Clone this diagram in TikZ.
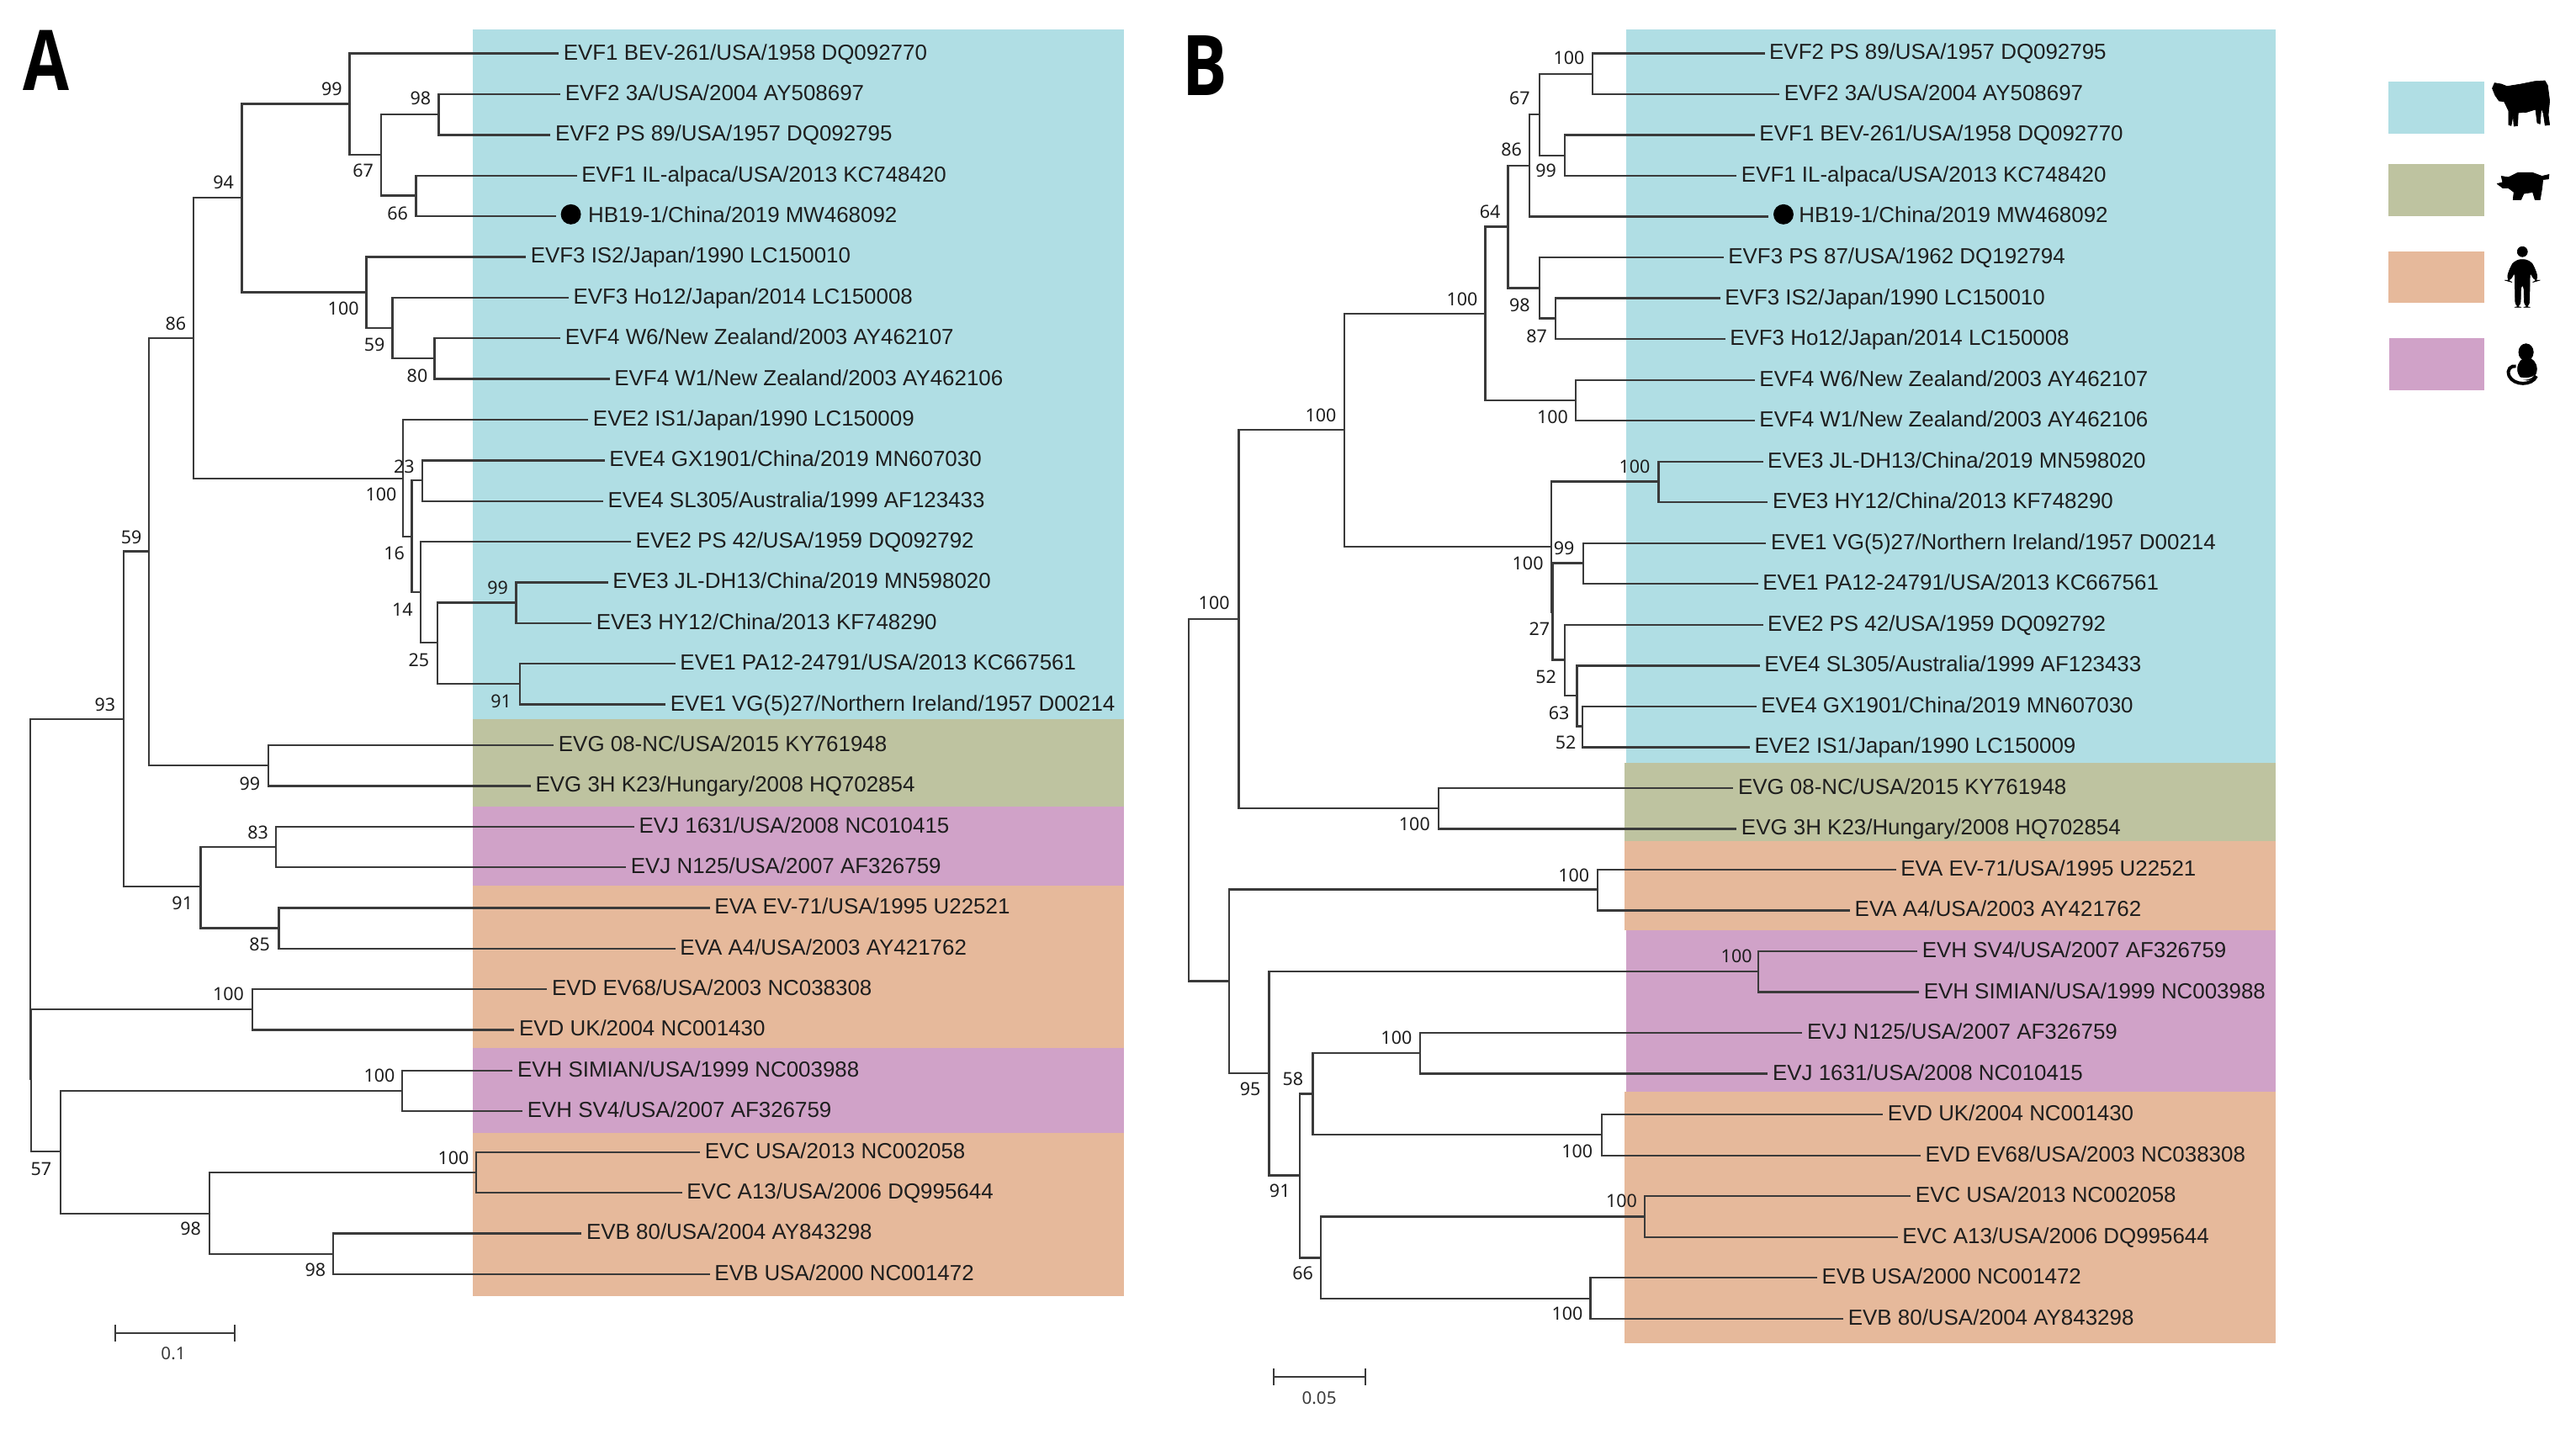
\documentclass[tikz,border=0pt]{standalone}
\usepackage{fontspec}
\setmainfont{Liberation Sans}
\newfontfamily\suppfont{Noto Sans}
\newfontfamily\bigfont{Open Sans}
\definecolor{bcy}{HTML}{B0DEE4}
\definecolor{bol}{HTML}{BEC3A0}
\definecolor{bpu}{HTML}{D0A2C8}
\definecolor{bor}{HTML}{E6B99B}
\definecolor{lin}{HTML}{3A3A3A}
\definecolor{txt}{HTML}{1E1E1E}
\tikzset{
  leaf/.style={anchor=west,inner xsep=0.14cm,inner ysep=0pt,outer sep=0pt,text height=0.4cm,text depth=0.096cm,text=txt,font=\fontsize{15.1}{16}\selectfont},
  br/.style={draw=lin,line width=0.048cm,line cap=rect},
  supp/.style={inner sep=0pt,text=txt,font=\suppfont\fontsize{12.5}{13}\selectfont},
  scalelab/.style={inner sep=0pt,text=lin,font=\suppfont\fontsize{12}{13}\selectfont},
  bigl/.style={inner sep=0pt,font=\bigfont\bfseries\fontsize{58}{60}\selectfont,xscale=0.8},
  dotn/.style={circle,fill=black,inner sep=0pt,minimum size=0.49cm},
  ic/.style={fill=black,draw=black,line join=round}
}
\newcommand{\LA}[3]{\node[leaf] (A#1) at (#2-3.5,{32.6+24.77*#1}) {#3};}
\newcommand{\LB}[3]{\node[leaf] (B#1) at (#2-3.5,{32.5+24.85*#1}) {#3};}
\newcommand{\BR}[2]{\draw[br] (#1) |- (#2);}
\newcommand{\SP}[4]{\node[supp] (#1) at (#2,#3) {#4};}
\begin{document}
\begin{tikzpicture}[x=0.04cm,y=-0.04cm]
\useasboundingbox (0,0) rectangle (1568,870);
% bands A
\fill[bcy] (288,18) rectangle (684,438);
\fill[bol] (288,438) rectangle (684,491);
\fill[bpu] (288,491) rectangle (684,539);
\fill[bor] (288,539) rectangle (684,638);
\fill[bpu] (288,638) rectangle (684,690);
\fill[bor] (288,690) rectangle (684,789);
% bands B
\fill[bcy] (990,18) rectangle (1385,464.5);
\fill[bol] (989,464.5) rectangle (1385,512);
\fill[bor] (989,512) rectangle (1385,566.5);
\fill[bpu] (990,566.5) rectangle (1385,664.5);
\fill[bor] (989,664.5) rectangle (1385,818);
% legend
\fill[bcy] (1453.6,49.8) rectangle (1512,81.4);
\fill[bol] (1454,99.9) rectangle (1512,131.8);
\fill[bor] (1454,153.3) rectangle (1512,184.3);
\fill[bpu] (1454.5,206) rectangle (1512,237.7);
% letters
\node[bigl] (letA) at (28,37) {A};
\node[bigl] (letB) at (733.5,40) {B};
% leaves A
\LA{0}{343}{EVF1 BEV-261/USA/1958 DQ092770}
\LA{1}{344}{EVF2 3A/USA/2004 AY508697}
\LA{2}{338}{EVF2 PS 89/USA/1957 DQ092795}
\LA{3}{354}{EVF1 IL-alpaca/USA/2013 KC748420}
\node[dotn] (dotA) at (347.5,130.5) {};
\LA{4}{358}{HB19-1/China/2019 MW468092}
\coordinate (endA4) at (338,{32.6+24.77*4});
\LA{5}{323}{EVF3 IS2/Japan/1990 LC150010}
\LA{6}{349}{EVF3 Ho12/Japan/2014 LC150008}
\LA{7}{344}{EVF4 W6/New Zealand/2003 AY462107}
\LA{8}{374}{EVF4 W1/New Zealand/2003 AY462106}
\LA{9}{361}{EVE2 IS1/Japan/1990 LC150009}
\LA{10}{371}{EVE4 GX1901/China/2019 MN607030}
\LA{11}{370}{EVE4 SL305/Australia/1999 AF123433}
\LA{12}{387}{EVE2 PS 42/USA/1959 DQ092792}
\LA{13}{373}{EVE3 JL-DH13/China/2019 MN598020}
\LA{14}{363}{EVE3 HY12/China/2013 KF748290}
\LA{15}{414}{EVE1 PA12-24791/USA/2013 KC667561}
\LA{16}{408}{EVE1 VG(5)27/Northern Ireland/1957 D00214}
\LA{17}{340}{EVG 08-NC/USA/2015 KY761948}
\LA{18}{326}{EVG 3H K23/Hungary/2008 HQ702854}
\LA{19}{389}{EVJ 1631/USA/2008 NC010415}
\LA{20}{384}{EVJ N125/USA/2007 AF326759}
\LA{21}{435}{EVA EV-71/USA/1995 U22521}
\LA{22}{414}{EVA A4/USA/2003 AY421762}
\LA{23}{336}{EVD EV68/USA/2003 NC038308}
\LA{24}{316}{EVD UK/2004 NC001430}
\LA{25}{315}{EVH SIMIAN/USA/1999 NC003988}
\LA{26}{321}{EVH SV4/USA/2007 AF326759}
\LA{27}{429}{EVC USA/2013 NC002058}
\LA{28}{418}{EVC A13/USA/2006 DQ995644}
\LA{29}{357}{EVB 80/USA/2004 AY843298}
\LA{30}{435}{EVB USA/2000 NC001472}
% inner nodes A
\coordinate (ar) at (18.3,547);
\coordinate (a1) at (75.2,437.9);
\coordinate (a2) at (19,657);
\coordinate (a3) at (90.6,335.7);
\coordinate (a4) at (122.2,539.7);
\coordinate (a5) at (117.8,206);
\coordinate (a6) at (163.4,466);
\coordinate (a7) at (147.3,120.5);
\coordinate (a8) at (245.4,291.3);
\coordinate (a9) at (212.8,63.3);
\coordinate (a10) at (223,178);
\coordinate (a11) at (232.1,94.2);
\coordinate (a12) at (267.1,69.8);
\coordinate (a13) at (253.3,119.1);
\coordinate (a14) at (238.9,199.8);
\coordinate (a15) at (264.5,218.3);
\coordinate (a16) at (250.7,326.7);
\coordinate (a17) at (257.2,292.4);
\coordinate (a18) at (256.1,360.5);
\coordinate (a19) at (266.3,391.3);
\coordinate (a20) at (314.1,366.9);
\coordinate (a21) at (316.5,416.4);
\coordinate (a22) at (168.1,515.6);
\coordinate (a23) at (169.7,565);
\coordinate (a24) at (153.5,614.6);
\coordinate (a25) at (36.8,701);
\coordinate (a26) at (244.9,664.2);
\coordinate (a27) at (127.4,738.8);
\coordinate (a28) at (289.8,713.8);
\coordinate (a29) at (202.9,763.4);
\BR{ar}{a1}\BR{ar}{a2}\BR{a1}{a3}\BR{a1}{a4}\BR{a3}{a5}\BR{a3}{a6}
\BR{a5}{a7}\BR{a5}{a8}\BR{a7}{a9}\BR{a7}{a10}
\BR{a9}{A0.west}\BR{a9}{a11}\BR{a11}{a12}\BR{a11}{a13}
\BR{a12}{A1.west}\BR{a12}{A2.west}\BR{a13}{A3.west}\BR{a13}{endA4}
\BR{a10}{A5.west}\BR{a10}{a14}\BR{a14}{A6.west}\BR{a14}{a15}\BR{a15}{A7.west}\BR{a15}{A8.west}
\BR{a8}{A9.west}\BR{a8}{a16}\BR{a16}{a17}\BR{a16}{a18}\BR{a17}{A10.west}\BR{a17}{A11.west}
\BR{a18}{A12.west}\BR{a18}{a19}\BR{a19}{a20}\BR{a19}{a21}
\BR{a20}{A13.west}\BR{a20}{A14.west}\BR{a21}{A15.west}\BR{a21}{A16.west}
\BR{a6}{A17.west}\BR{a6}{A18.west}
\BR{a4}{a22}\BR{a4}{a23}\BR{a22}{A19.west}\BR{a22}{A20.west}\BR{a23}{A21.west}\BR{a23}{A22.west}
\BR{a2}{a24}\BR{a2}{a25}\BR{a24}{A23.west}\BR{a24}{A24.west}
\BR{a25}{a26}\BR{a25}{a27}\BR{a26}{A25.west}\BR{a26}{A26.west}
\BR{a27}{a28}\BR{a27}{a29}\BR{a28}{A27.west}\BR{a28}{A28.west}\BR{a29}{A29.west}\BR{a29}{A30.west}
% support A
\SP{sa1}{202}{54}{99}\SP{sa2}{256}{60}{98}\SP{sa3}{221}{104}{67}\SP{sa4}{242}{130}{66}
\SP{sa5}{136}{111}{94}\SP{sa6}{209}{188}{100}\SP{sa7}{228}{210}{59}\SP{sa8}{254}{229}{80}
\SP{sa9}{107}{197}{86}\SP{sa10}{246}{284}{23}\SP{sa11}{232}{301}{100}\SP{sa12}{240}{337}{16}
\SP{sa13}{245}{371}{14}\SP{sa14}{255}{402}{25}\SP{sa15}{303}{358}{99}\SP{sa16}{305}{427}{91}
\SP{sa17}{80}{327}{59}\SP{sa18}{64}{429}{93}\SP{sa19}{152}{477}{99}\SP{sa20}{157}{507}{83}
\SP{sa21}{111}{550}{91}\SP{sa22}{158}{575}{85}\SP{sa23}{139}{605}{100}\SP{sa24}{231}{655}{100}
\SP{sa25}{25}{712}{57}\SP{sa26}{276}{705}{100}\SP{sa27}{116}{748}{98}\SP{sa28}{192}{773}{98}
% scale A
\coordinate (scaL) at (70,811.5);
\coordinate (scaR) at (143,811.5);
\draw[br] (scaL) -- (scaR);
\draw[br] ([yshift=-0.18cm]scaL) -- ([yshift=0.18cm]scaL);
\draw[br] ([yshift=-0.18cm]scaR) -- ([yshift=0.18cm]scaR);
\node[scalelab] (scaT) at (105.5,824) {0.1};
% leaves B
\LB{0}{1077}{EVF2 PS 89/USA/1957 DQ092795}
\LB{1}{1086}{EVF2 3A/USA/2004 AY508697}
\LB{2}{1071}{EVF1 BEV-261/USA/1958 DQ092770}
\LB{3}{1060}{EVF1 IL-alpaca/USA/2013 KC748420}
\node[dotn] (dotB) at (1085.6,130.5) {};
\LB{4}{1095}{HB19-1/China/2019 MW468092}
\coordinate (endB4) at (1076,{32.5+24.85*4});
\LB{5}{1052}{EVF3 PS 87/USA/1962 DQ192794}
\LB{6}{1050}{EVF3 IS2/Japan/1990 LC150010}
\LB{7}{1053}{EVF3 Ho12/Japan/2014 LC150008}
\LB{8}{1071}{EVF4 W6/New Zealand/2003 AY462107}
\LB{9}{1071}{EVF4 W1/New Zealand/2003 AY462106}
\LB{10}{1076}{EVE3 JL-DH13/China/2019 MN598020}
\LB{11}{1079}{EVE3 HY12/China/2013 KF748290}
\LB{12}{1078}{EVE1 VG(5)27/Northern Ireland/1957 D00214}
\LB{13}{1073}{EVE1 PA12-24791/USA/2013 KC667561}
\LB{14}{1076}{EVE2 PS 42/USA/1959 DQ092792}
\LB{15}{1074}{EVE4 SL305/Australia/1999 AF123433}
\LB{16}{1072}{EVE4 GX1901/China/2019 MN607030}
\LB{17}{1068}{EVE2 IS1/Japan/1990 LC150009}
\LB{18}{1058}{EVG 08-NC/USA/2015 KY761948}
\LB{19}{1060}{EVG 3H K23/Hungary/2008 HQ702854}
\LB{20}{1157}{EVA EV-71/USA/1995 U22521}
\LB{21}{1129}{EVA A4/USA/2003 AY421762}
\LB{22}{1170}{EVH SV4/USA/2007 AF326759}
\LB{23}{1171}{EVH SIMIAN/USA/1999 NC003988}
\LB{24}{1100}{EVJ N125/USA/2007 AF326759}
\LB{25}{1079}{EVJ 1631/USA/2008 NC010415}
\LB{26}{1149}{EVD UK/2004 NC001430}
\LB{27}{1172}{EVD EV68/USA/2003 NC038308}
\LB{28}{1166}{EVC USA/2013 NC002058}
\LB{29}{1158}{EVC A13/USA/2006 DQ995644}
\LB{30}{1109}{EVB USA/2000 NC001472}
\LB{31}{1125}{EVB 80/USA/2004 AY843298}
% inner nodes B
\coordinate (br) at (723.7,487);
\coordinate (b1) at (754,377);
\coordinate (b2) at (748,597.4);
\coordinate (b3) at (818.2,261.7);
\coordinate (b4) at (875.6,492);
\coordinate (b5) at (904.1,191);
\coordinate (b6) at (944.3,332.8);
\coordinate (b7) at (917.9,138);
\coordinate (b8) at (959.2,243.6);
\coordinate (b9) at (931,100.8);
\coordinate (b10) at (937,175.4);
\coordinate (b11) at (937,69.8);
\coordinate (b12) at (969.4,44.9);
\coordinate (b13) at (952.4,94.7);
\coordinate (b14) at (946.7,193.9);
\coordinate (b15) at (1009.6,293.2);
\coordinate (b16) at (945,372.5);
\coordinate (b17) at (963.6,342.8);
\coordinate (b18) at (952.4,401.8);
\coordinate (b19) at (959.9,423.4);
\coordinate (b20) at (963.1,442.1);
\coordinate (b21) at (972.3,541.6);
\coordinate (b22) at (772.5,653.5);
\coordinate (b23) at (1070.4,591.3);
\coordinate (b24) at (791,715.6);
\coordinate (b25) at (799.1,666);
\coordinate (b26) at (804.1,765.8);
\coordinate (b27) at (864.4,641);
\coordinate (b28) at (974.9,690.7);
\coordinate (b29) at (1001,740.7);
\coordinate (b30) at (968.1,790.6);
\BR{br}{b1}\BR{br}{b2}\BR{b1}{b3}\BR{b1}{b4}\BR{b3}{b5}\BR{b3}{b6}\BR{b5}{b7}\BR{b5}{b8}
\BR{b7}{b9}\BR{b7}{b10}\BR{b9}{b11}\BR{b9}{endB4}\BR{b11}{b12}\BR{b11}{b13}
\BR{b12}{B0.west}\BR{b12}{B1.west}\BR{b13}{B2.west}\BR{b13}{B3.west}
\BR{b10}{B5.west}\BR{b10}{b14}\BR{b14}{B6.west}\BR{b14}{B7.west}\BR{b8}{B8.west}\BR{b8}{B9.west}
\BR{b6}{b15}\BR{b6}{b16}\BR{b15}{B10.west}\BR{b15}{B11.west}\BR{b16}{b17}\BR{b16}{b18}
\BR{b17}{B12.west}\BR{b17}{B13.west}\BR{b18}{B14.west}\BR{b18}{b19}\BR{b19}{B15.west}\BR{b19}{b20}
\BR{b20}{B16.west}\BR{b20}{B17.west}\BR{b4}{B18.west}\BR{b4}{B19.west}
\BR{b2}{b21}\BR{b2}{b22}\BR{b21}{B20.west}\BR{b21}{B21.west}\BR{b22}{b23}\BR{b22}{b24}
\BR{b23}{B22.west}\BR{b23}{B23.west}\BR{b24}{b25}\BR{b24}{b26}\BR{b25}{b27}\BR{b25}{b28}
\BR{b27}{B24.west}\BR{b27}{B25.west}\BR{b28}{B26.west}\BR{b28}{B27.west}
\BR{b26}{b29}\BR{b26}{b30}\BR{b29}{B28.west}\BR{b29}{B29.west}\BR{b30}{B30.west}\BR{b30}{B31.west}
% support B
\SP{sb1}{955}{35}{100}\SP{sb2}{925}{60}{67}\SP{sb3}{920}{91}{86}\SP{sb4}{941}{104}{99}
\SP{sb5}{907}{129}{64}\SP{sb6}{890}{182}{100}\SP{sb7}{925}{186}{98}\SP{sb8}{935.4}{204.5}{87}
\SP{sb9}{804}{253}{100}\SP{sb10}{945}{254}{100}\SP{sb11}{995}{284}{100}\SP{sb12}{952}{334}{99}
\SP{sb13}{930}{343}{100}\SP{sb14}{937}{383}{27}\SP{sb15}{941}{412}{52}\SP{sb16}{949}{434}{63}
\SP{sb17}{953}{452}{52}\SP{sb18}{739}{367}{100}\SP{sb19}{861}{502}{100}\SP{sb20}{958}{533}{100}
\SP{sb21}{1057}{582}{100}\SP{sb22}{850}{632}{100}\SP{sb23}{787}{657}{58}\SP{sb24}{761}{663}{95}
\SP{sb25}{960}{701}{100}\SP{sb26}{987}{731}{100}\SP{sb27}{779}{725}{91}\SP{sb28}{793}{775}{66}
\SP{sb29}{954}{800}{100}
% scale B
\coordinate (sbL) at (775.4,838.4);
\coordinate (sbR) at (831,838.4);
\draw[br] (sbL) -- (sbR);
\draw[br] ([yshift=-0.18cm]sbL) -- ([yshift=0.18cm]sbL);
\draw[br] ([yshift=-0.18cm]sbR) -- ([yshift=0.18cm]sbR);
\node[scalelab] (sbT) at (803,851) {0.05};
% icons (coordinates of the legend crop)
\begin{scope}[shift={(1423.4,30.7)},x=0.00683cm,y=-0.00683cm]
  % cow
  \fill[ic] (548,135) -- (556,116) -- (580,120) -- (600,128) -- (650,120) -- (700,110) -- (735,108)
    -- (745,125) -- (752,180) -- (747,230) -- (752,265) -- (736,267) -- (730,225) -- (722,205)
    -- (718,262) -- (708,258) -- (702,210) -- (670,220) -- (640,222) -- (638,268) -- (625,270)
    -- (622,230) -- (615,268) -- (606,265) -- (606,215) -- (590,182) -- (572,180) -- (558,160) -- cycle;
  % pig
  \fill[ic] (565,475) -- (585,470) -- (580,448) -- (605,452) -- (640,435) -- (690,435) -- (725,448)
    -- (750,442) -- (748,458) -- (728,460) -- (725,490) -- (718,532) -- (700,532) -- (692,505)
    -- (660,510) -- (650,532) -- (622,532) -- (625,505) -- (605,490) -- (585,490) -- cycle;
  % human
  \fill[ic] (655,717) circle (18);
  \fill[ic,rounded corners=4] (630,745) -- (680,745) -- (700,775) -- (712,820) -- (698,824) -- (682,785)
    -- (680,915) -- (662,915) -- (660,830) -- (650,830) -- (648,915) -- (630,915) -- (628,785) -- (612,824) -- (598,820) -- (610,775) -- cycle;
  % monkey
  \fill[ic] (668,1075) ellipse (26 and 30);
  \fill[ic] (672,1135) ellipse (34 and 40);
  \draw[black,line width=0.08cm] (705,1160) .. controls (690,1195) and (625,1195) .. (608,1160)
    .. controls (598,1135) and (615,1122) .. (632,1125);
  \fill[white] (620,1150) .. controls (640,1170) and (680,1170) .. (697,1158)
    .. controls (680,1180) and (635,1180) .. (620,1150) -- cycle;
\end{scope}
\end{tikzpicture}
\end{document}
